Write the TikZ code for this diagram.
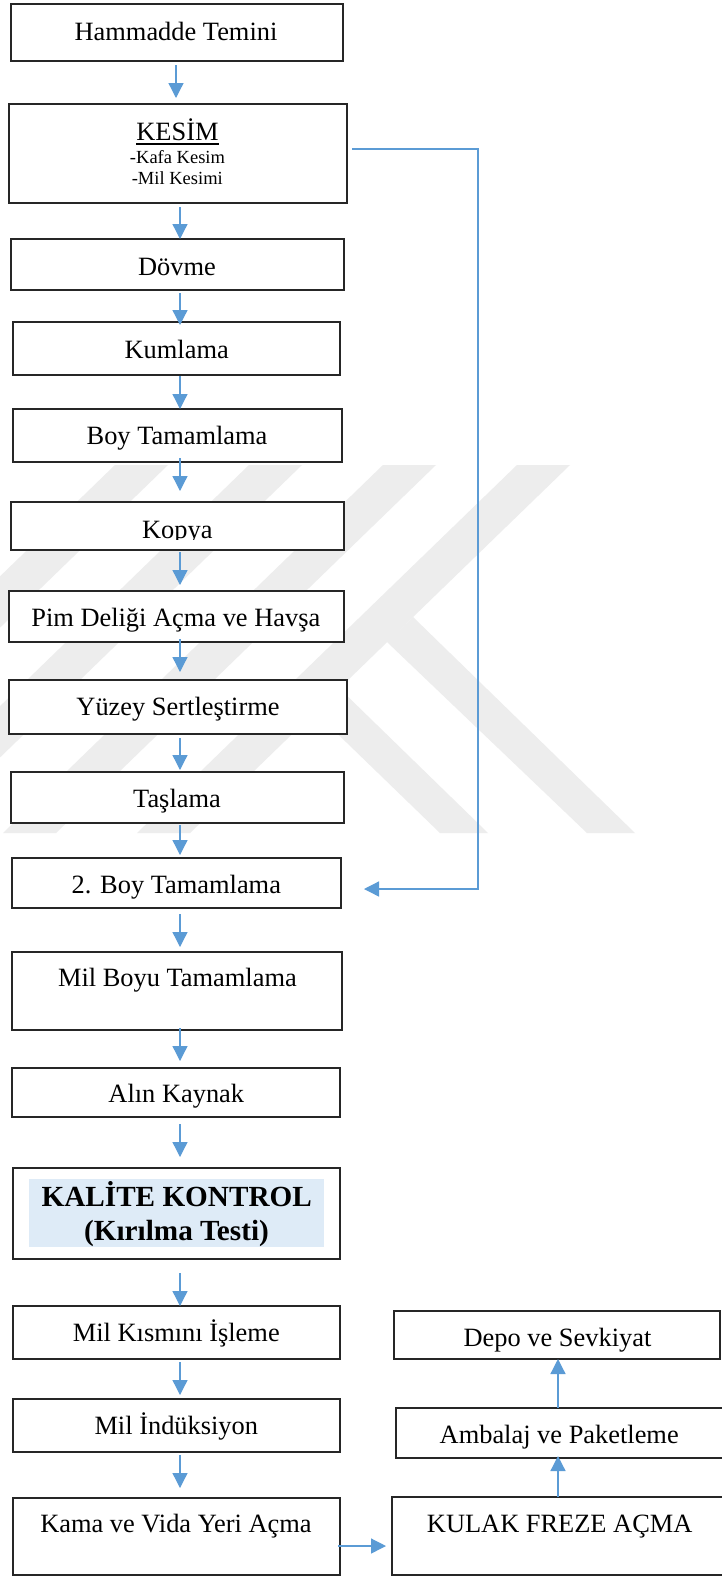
\documentclass[tikz,border=0pt]{standalone}
\usepackage{fontspec}
\setmainfont{Liberation Serif}
\usetikzlibrary{arrows.meta,calc}
\definecolor{flowblue}{HTML}{5B9BD5}
\definecolor{wmgray}{HTML}{EDEDED}
\definecolor{hlblue}{HTML}{DEEBF7}
\definecolor{boxline}{HTML}{262626}
\tikzset{
  pbox/.style={draw=boxline, line width=1.4pt, fill=white, inner sep=0pt, outer sep=0pt, anchor=north west},
  lbl/.style={inner sep=0pt, outer sep=0pt, anchor=base, font=\fontsize{26.4}{30}\selectfont},
  sublbl/.style={lbl, font=\fontsize{18.5}{21}\selectfont},
  boldlbl/.style={lbl, font=\fontsize{29.2}{33}\selectfont\bfseries},
  arr/.style={draw=flowblue, line width=1.3pt, -{Triangle[length=15pt,width=15pt]}},
  wm/.style={fill=wmgray},
}
\newcommand{\pbx}[5]{\node[pbox, minimum width={#4-#2}, minimum height={#5-#3}] (#1) at (#2,#3) {};}
\newcommand{\flowarrow}[5]{\draw[arr] ($(#1.south -| #3)+(0,#4)$) -- ($(#2.north -| #3)+(0,#5)$);}
\begin{document}
\begin{tikzpicture}[x=1pt,y=-1pt]
\useasboundingbox (0,0) rectangle (722,1580);
\fill[white] (0,0) rectangle (722,1580);
\clip (0,0) rectangle (722,1580);
% watermark
\fill[wm] (517,465) -- (570,465) -- (190,833) -- (137,833) -- cycle;
\fill[wm] (383,465) -- (436,465) -- (56,833) -- (3,833) -- cycle;
\fill[wm] (249,465) -- (302,465) -- (-78,833) -- (-131,833) -- cycle;
\fill[wm] (115,465) -- (168,465) -- (-212,833) -- (-265,833) -- cycle;
\fill[wm] (413,617) -- (635,833) -- (587,833) -- (387,642) -- cycle;
\fill[wm] (339,688) -- (488,833) -- (440,833) -- (315,712) -- cycle;
% coordinates
\coordinate (ax1) at (176,0);
\coordinate (ax) at (180,0);
\coordinate (ux) at (558,0);
\coordinate (hy) at (0,1546);
\coordinate (fb1) at (478,149);
\coordinate (fb2) at (478,889);
% boxes
\pbx{b1}{11}{4}{343}{61}
\pbx{b2}{9}{104}{347}{203}
\pbx{b3}{11}{239}{344}{290}
\pbx{b4}{13}{322}{340}{375}
\pbx{b5}{13}{409}{342}{462}
\pbx{b6}{11}{502}{344}{550}
\pbx{b7}{9}{591}{344}{642}
\pbx{b8}{9}{680}{347}{734}
\pbx{b9}{11}{772}{344}{823}
\pbx{b10}{12}{858}{341}{908}
\pbx{b11}{12}{952}{342}{1030}
\pbx{b12}{12}{1068}{340}{1117}
\pbx{b13}{13}{1168}{340}{1259}
\pbx{b14}{13}{1306}{340}{1359}
\pbx{b15}{13}{1399}{340}{1452}
\pbx{b16}{13}{1498}{340}{1575}
\pbx{b17}{394}{1311}{720}{1359}
\pbx{b18}{396}{1408}{730}{1458}
\pbx{b19}{392}{1497}{730}{1575}
\node[fill=hlblue, inner sep=0pt, outer sep=0pt, anchor=north west, minimum width=295, minimum height=68] (hl) at (29,1179) {};
% texts
\node[lbl] (t1) at (176,40) {Hammadde Temini};
\node[lbl] (t2a) at (177.5,140) {KESİM};
\draw[line width=1.3pt] ($(t2a.base west)+(0,4)$) -- ($(t2a.base east)+(0,4)$);
\node[sublbl] (t2b) at (177.5,163.3) {-Kafa Kesim};
\node[sublbl] (t2c) at (177.3,184.3) {-Mil Kesimi};
\node[lbl] (t3) at (177,275) {Dövme};
\node[lbl] (t4) at (176.7,358.3) {Kumlama};
\node[lbl] (t5) at (177,444.3) {Boy Tamamlama};
\begin{scope}
\clip (0,495) rectangle (722,539.5);
\node[lbl] (t6) at (177.3,538) {Kopya};
\end{scope}
\node[lbl] (t7) at (175.8,626.7) {Pim Deliği Açma ve Havşa};
\node[lbl] (t8) at (178,715) {Yüzey Sertleştirme};
\node[lbl] (t9) at (177,807.3) {Taşlama};
\node[lbl] (t10) at (176.3,893.3) {2. Boy Tamamlama};
\node[lbl] (t11) at (177.4,986.7) {Mil Boyu Tamamlama};
\node[lbl] (t12) at (176.3,1102.7) {Alın Kaynak};
\node[boldlbl] (t13a) at (176.7,1206.7) {KALİTE KONTROL};
\node[boldlbl] (t13b) at (176.5,1240) {(Kırılma Testi)};
\node[lbl] (t14) at (176.3,1341.7) {Mil Kısmını İşleme};
\node[lbl] (t15) at (176.3,1434) {Mil İndüksiyon};
\node[lbl] (t16) at (176,1532.3) {Kama ve Vida Yeri Açma};
\node[lbl] (t17) at (557.5,1346.7) {Depo ve Sevkiyat};
\node[lbl] (t18) at (559.2,1443.3) {Ambalaj ve Paketleme};
\node[lbl] (t19) at (559.7,1532.3) {KULAK FREZE AÇMA};
% arrows
\flowarrow{b1}{b2}{ax1}{4}{-6}
\flowarrow{b2}{b3}{ax}{4}{0}
\flowarrow{b3}{b4}{ax}{3}{3}
\flowarrow{b4}{b5}{ax}{1}{0}
\flowarrow{b5}{b6}{ax}{-4}{-11}
\flowarrow{b6}{b7}{ax}{2}{-6}
\flowarrow{b7}{b8}{ax}{-3}{-8}
\flowarrow{b8}{b9}{ax}{4}{-2}
\flowarrow{b9}{b10}{ax}{2}{-3}
\flowarrow{b10}{b11}{ax}{6}{-5}
\flowarrow{b11}{b12}{ax}{-2}{-7}
\flowarrow{b12}{b13}{ax}{7}{-11}
\flowarrow{b13}{b14}{ax}{14}{0}
\flowarrow{b14}{b15}{ax}{3}{-4}
\flowarrow{b15}{b16}{ax}{3}{-10}
\draw[arr] (b19.north -| ux) -- ($(b18.south -| ux)+(0,-2)$);
\draw[arr] (b18.north -| ux) -- (b17.south -| ux);
\draw[arr] ($(b16.east |- hy)+(-2,0)$) -- ($(b19.west |- hy)+(-6,0)$);
\draw[arr] ($(b2.east |- fb1)+(5,0)$) -- (fb1) -- (fb2) -- ($(b10.east |- fb2)+(23,0)$);
\end{tikzpicture}
\end{document}
